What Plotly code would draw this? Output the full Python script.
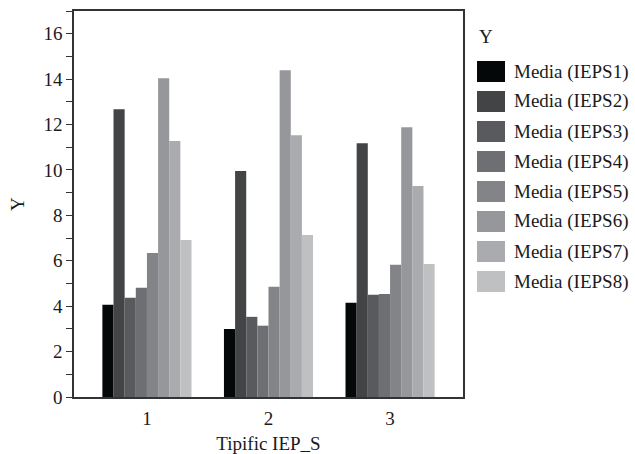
import plotly.graph_objects as go

categories = ["1", "2", "3"]
series_names = ["Media (IEPS1)", "Media (IEPS2)", "Media (IEPS3)", "Media (IEPS4)",
                "Media (IEPS5)", "Media (IEPS6)", "Media (IEPS7)", "Media (IEPS8)"]
ieps1 = [4.06, 3.00, 4.15]
ieps2 = [12.67, 9.95, 11.18]
ieps3 = [4.37, 3.53, 4.50]
ieps4 = [4.81, 3.14, 4.54]
ieps5 = [6.34, 4.86, 5.82]
ieps6 = [14.04, 14.39, 11.88]
ieps7 = [11.27, 11.53, 9.29]
ieps8 = [6.92, 7.14, 5.86]
series_values = [ieps1, ieps2, ieps3, ieps4, ieps5, ieps6, ieps7, ieps8]
colors = ["#050808", "#434446", "#595a5e", "#6e6f73", "#838488", "#96979b", "#aaabae", "#bfc0c2"]
y_ticks = [0, 2, 4, 6, 8, 10, 12, 14, 16]

FONT = "Liberation Serif, Times New Roman, serif"

fig = go.Figure()
x_idx = [1, 2, 3]
for name, vals, col in zip(series_names, series_values, colors):
    fig.add_trace(go.Bar(x=x_idx, y=vals, name=name, marker=dict(color=col, line=dict(width=0)),
                         showlegend=False))

W, H = 635, 454
L, R, T, B = 74, 172, 11, 57

fig.update_layout(
    width=W, height=H,
    margin=dict(l=L, r=R, t=T, b=B, autoexpand=False),
    paper_bgcolor="white", plot_bgcolor="white",
    barmode="group", bargap=0.267, bargroupgap=0,
    font=dict(family=FONT, size=19, color="#1a1a1a"),
    xaxis=dict(range=[0.4, 3.6], tickvals=x_idx, ticktext=categories, showgrid=False,
               showline=True, linecolor="#333333", linewidth=1.5, mirror=True,
               ticks="outside", ticklen=3, tickcolor="rgba(0,0,0,0)", automargin=False,
               title=dict(text="Tipific IEP_S", standoff=20, font=dict(size=19)),
               zeroline=False, tickfont=dict(size=19)),
    yaxis=dict(range=[0, 17], tickvals=y_ticks, showgrid=False, showline=True,
               linecolor="#333333", linewidth=1.5, mirror=True, ticks="outside", ticklen=6,
               tickcolor="#333333", tickwidth=1.2, automargin=False,
               minor=dict(dtick=1, ticks="outside", ticklen=6, tickcolor="#333333", tickwidth=1.2),
               title=dict(text="Y", standoff=14, font=dict(size=19)), zeroline=False,
               tickfont=dict(size=19)),
)

# Custom legend (large swatches as in reference)
plot_w = W - L - R
plot_h = H - T - B
def px_to_paper_x(px):
    return (px - L) / plot_w
def px_to_paper_y(py):
    return (H - B - py) / plot_h

fig.add_annotation(x=px_to_paper_x(477), y=px_to_paper_y(36), xref="paper", yref="paper",
                   text="Y", showarrow=False, xanchor="left", yanchor="middle",
                   font=dict(family=FONT, size=19, color="#1a1a1a"))
for i, (name, col) in enumerate(zip(series_names, colors)):
    top = 61 + 30 * i
    fig.add_shape(type="rect", xref="paper", yref="paper",
                  x0=px_to_paper_x(477), x1=px_to_paper_x(505),
                  y0=px_to_paper_y(top + 21), y1=px_to_paper_y(top),
                  fillcolor=col, line=dict(width=0))
    fig.add_annotation(x=px_to_paper_x(512), y=px_to_paper_y(top + 10.5), xref="paper", yref="paper",
                       text=name, showarrow=False, xanchor="left", yanchor="middle",
                       font=dict(family=FONT, size=19, color="#1a1a1a"))

fig.write_html("out.html", config={"displayModeBar": False},
               post_script="document.body.style.margin='0';")
